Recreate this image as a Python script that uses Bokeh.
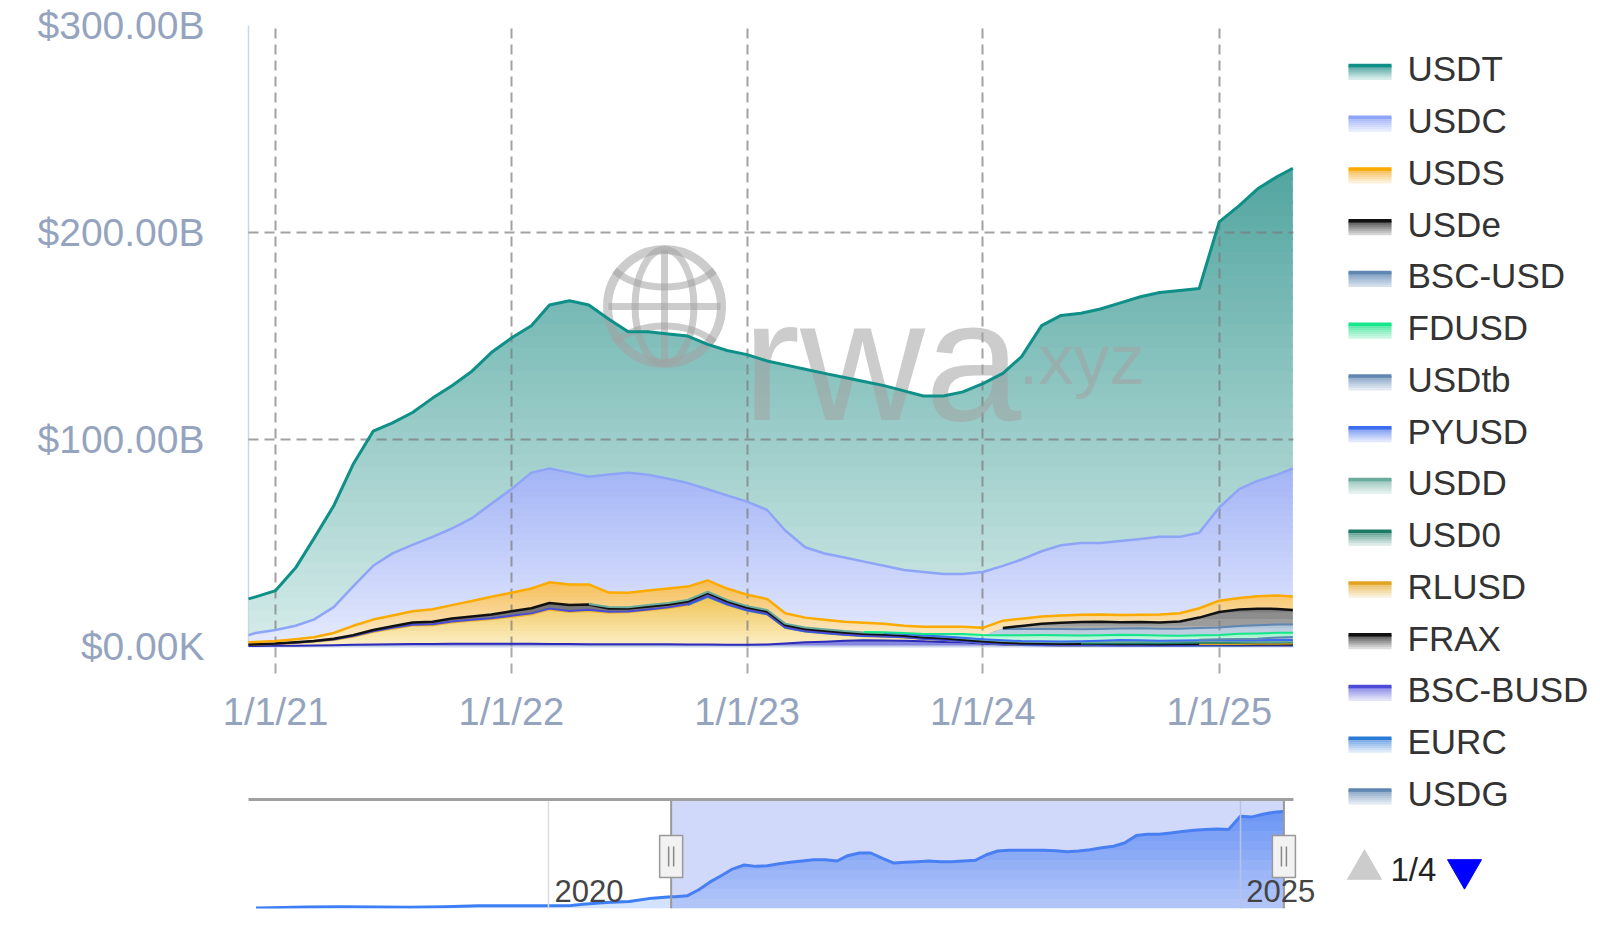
import numpy as np
import pandas as pd
from bokeh.plotting import figure
from bokeh.models import Range1d, FixedTicker, BoxAnnotation, Span, Label
from bokeh.layouts import column, row
from bokeh.embed import file_html
from bokeh.resources import INLINE
from bokeh.core.properties import value

# ---------------------------------------------------------------- data (USD billions)
dates = ["2020-11-20", "2020-12-01", "2021-01-01", "2021-02-01", "2021-03-01", "2021-04-01",
         "2021-05-01", "2021-06-01", "2021-07-01", "2021-08-01", "2021-09-01", "2021-10-01",
         "2021-11-01", "2021-12-01", "2022-01-01", "2022-02-01", "2022-03-01", "2022-04-01",
         "2022-05-01", "2022-06-01", "2022-07-01", "2022-08-01", "2022-09-01", "2022-10-01",
         "2022-11-01", "2022-12-01", "2023-01-01", "2023-02-01", "2023-03-01", "2023-04-01",
         "2023-05-01", "2023-06-01", "2023-07-01", "2023-08-01", "2023-09-01", "2023-10-01",
         "2023-11-01", "2023-12-01", "2024-01-01", "2024-02-01", "2024-03-01", "2024-04-01",
         "2024-05-01", "2024-06-01", "2024-07-01", "2024-08-01", "2024-09-01", "2024-10-01",
         "2024-11-01", "2024-12-01", "2025-01-01", "2025-02-01", "2025-03-01", "2025-04-01",
         "2025-04-25"]

usdt = [17.5, 17.5, 19, 28, 39, 49, 59, 65, 63, 64,
        67, 69, 71, 73, 73, 71, 79, 83, 83, 75,
        68, 69, 70, 71, 70, 70, 71, 72, 80, 86,
        87, 87, 87, 87, 86.5, 85, 86, 88, 91, 93,
        98, 109, 111, 111, 113, 115, 117, 118, 119, 118,
        138, 137, 141, 144, 145]
usdc = [3.5, 4.3, 5.4, 6.5, 8.5, 12.5, 19, 26, 30, 32,
        35, 37, 40, 45, 50, 56, 55, 54, 52, 57,
        58, 56, 53, 50, 44, 45, 45, 43, 40, 34,
        32, 31, 29.5, 28, 27, 26.5, 25.5, 25.5, 27, 26.5,
        28.6, 31.5, 34, 34.7, 34.6, 35.8, 36.6, 37.6, 36.9, 36.5,
        45, 52.6, 55.7, 58.4, 61.9]
usds = [1.0, 1.1, 1.2, 1.5, 1.8, 2.8, 4.5, 5.0, 5.2, 5.5,
        6.0, 6.5, 7.5, 8.5, 9.0, 9.5, 10, 10, 9.5, 7.0,
        7.0, 7.0, 7.0, 6.5, 5.5, 5.5, 5.5, 5.3, 5.0, 4.8,
        4.6, 4.5, 4.5, 4.2, 3.5, 3.5, 3.5, 3.5, 3.5, 3.5,
        3.5, 3.5, 3.5, 3.5, 3.5, 3.5, 3.6, 3.8, 4.0, 4.5,
        5.5, 5.5, 6.0, 6.5, 6.5]
usde = [0, 0, 0, 0, 0, 0, 0, 0, 0, 0,
        0, 0, 0, 0, 0, 0, 0, 0, 0, 0,
        0, 0, 0, 0, 0, 0, 0, 0, 0, 0,
        0, 0, 0, 0, 0, 0, 0, 0, 0, 0.5,
        1.5, 2.5, 3.0, 3.5, 3.5, 3.0, 3.0, 3.0, 3.5, 5.0,
        7.5, 8.0, 8.0, 7.5, 7.0]
bsc_usd = [0, 0, 0, 0, 0, 0, 0, 0, 0, 0,
           0, 0, 0, 0, 0, 0, 0, 0, 0, 0,
           0, 0, 0, 0, 0, 0, 0, 0, 0, 0,
           0, 0, 0, 0, 0, 0, 0, 0, 0, 3.0,
           3.0, 3.0, 3.0, 3.0, 3.0, 3.0, 3.2, 3.3, 3.4, 3.5,
           3.6, 3.8, 4.0, 4.0, 4.0]
fdusd = [0, 0, 0, 0, 0, 0, 0, 0, 0, 0,
         0, 0, 0, 0, 0, 0, 0, 0, 0, 0,
         0, 0, 0, 0, 0, 0, 0, 0, 0, 0,
         0, 0, 0.2, 0.3, 0.4, 0.7, 1.2, 1.8, 2.0, 2.5,
         2.8, 3.0, 3.0, 2.8, 2.7, 2.6, 2.6, 2.5, 2.3, 2.2,
         2.0, 2.5, 2.5, 2.3, 2.0]
usdtb = [0, 0, 0, 0, 0, 0, 0, 0, 0, 0,
         0, 0, 0, 0, 0, 0, 0, 0, 0, 0,
         0, 0, 0, 0, 0, 0, 0, 0, 0, 0,
         0, 0, 0, 0, 0, 0, 0, 0, 0, 0,
         0, 0, 0, 0, 0, 0, 0, 0, 0, 0.2,
         0.4, 0.6, 0.8, 1.2, 1.4]
pyusd = [0, 0, 0, 0, 0, 0, 0, 0, 0, 0,
         0, 0, 0, 0, 0, 0, 0, 0, 0, 0,
         0, 0, 0, 0, 0, 0, 0, 0, 0, 0,
         0, 0, 0, 0.03, 0.05, 0.1, 0.15, 0.2, 0.25, 0.3,
         0.3, 0.35, 0.4, 0.4, 0.5, 0.9, 0.7, 0.5, 0.5, 0.5,
         0.5, 0.6, 0.7, 0.8, 0.8]
usdd = [0, 0, 0, 0, 0, 0, 0, 0, 0, 0,
        0, 0, 0, 0, 0, 0, 0, 0, 0.2, 0.7,
        0.7, 0.7, 0.7, 0.7, 0.7, 0.7, 0.7, 0.7, 0.7, 0.7,
        0.7, 0.7, 0.7, 0.7, 0.7, 0.7, 0.7, 0.7, 0.7, 0.7,
        0.7, 0.7, 0.7, 0.7, 0.7, 0.7, 0.7, 0.7, 0.7, 0.75,
        0.8, 0.6, 0.4, 0.4, 0.4]
usd0 = [0, 0, 0, 0, 0, 0, 0, 0, 0, 0,
        0, 0, 0, 0, 0, 0, 0, 0, 0, 0,
        0, 0, 0, 0, 0, 0, 0, 0, 0, 0,
        0, 0, 0, 0, 0, 0, 0, 0, 0, 0,
        0, 0, 0, 0.1, 0.2, 0.3, 0.4, 0.5, 0.5, 0.6,
        0.6, 0.6, 0.6, 0.6, 0.6]
rlusd = [0, 0, 0, 0, 0, 0, 0, 0, 0, 0,
         0, 0, 0, 0, 0, 0, 0, 0, 0, 0,
         0, 0, 0, 0, 0, 0, 0, 0, 0, 0,
         0, 0, 0, 0, 0, 0, 0, 0, 0, 0,
         0, 0, 0, 0, 0, 0, 0, 0, 0, 0.05,
         0.08, 0.1, 0.15, 0.25, 0.3]
frax = [0.05, 0.05, 0.1, 0.15, 0.2, 0.3, 0.4, 0.6, 0.8, 1.0,
        1.2, 1.4, 1.6, 1.8, 2.2, 2.5, 2.7, 2.8, 2.6, 1.6,
        1.4, 1.4, 1.4, 1.3, 1.3, 1.2, 1.1, 1.1, 1.1, 1.0,
        1.0, 0.95, 0.9, 0.85, 0.8, 0.7, 0.65, 0.65, 0.65, 0.65,
        0.65, 0.6, 0.6, 0.6, 0.6, 0.6, 0.55, 0.5, 0.5, 0.5,
        0.45, 0.4, 0.4, 0.35, 0.35]
bsc_busd = [0.05, 0.05, 0.1, 0.15, 0.2, 0.3, 0.4, 0.4, 0.4, 0.45,
            0.5, 0.5, 0.5, 0.5, 0.5, 0.5, 0.5, 0.5, 0.5, 0.45,
            0.4, 0.4, 0.4, 0.4, 0.4, 0.35, 0.35, 0.3, 0.2, 0.2,
            0.2, 0.15, 0.15, 0.1, 0.1, 0.1, 0.1, 0.1, 0.1, 0.1,
            0.1, 0.1, 0.1, 0.1, 0.1, 0.05, 0.05, 0.05, 0.05, 0.05,
            0.05, 0.05, 0.05, 0.05, 0.05]
eurc = [0, 0, 0, 0, 0, 0, 0, 0, 0, 0,
        0, 0, 0, 0, 0, 0, 0, 0, 0, 0,
        0, 0, 0, 0.05, 0.05, 0.05, 0.05, 0.05, 0.05, 0.05,
        0.05, 0.05, 0.05, 0.05, 0.05, 0.05, 0.05, 0.05, 0.05, 0.07,
        0.07, 0.07, 0.07, 0.07, 0.07, 0.07, 0.08, 0.08, 0.1, 0.1,
        0.12, 0.12, 0.13, 0.14, 0.15]
usdg = [0, 0, 0, 0, 0, 0, 0, 0, 0, 0,
        0, 0, 0, 0, 0, 0, 0, 0, 0, 0,
        0, 0, 0, 0, 0, 0, 0, 0, 0, 0,
        0, 0, 0, 0, 0, 0, 0, 0, 0, 0,
        0, 0, 0, 0, 0, 0, 0, 0, 0.01, 0.02,
        0.03, 0.04, 0.05, 0.05, 0.05]
# series on later legend pages (not listed on page 1/4)
busd = [0.6, 0.7, 0.85, 1.3, 1.8, 2.5, 3.9, 6.0, 7.5, 8.9,
        9.1, 10.3, 11.1, 11.9, 13.0, 14.2, 16.6, 15.5, 16.1, 15.2,
        15.4, 16.4, 17.4, 19.0, 23.0, 19.3, 16.4, 14.5, 7.5, 5.2,
        4.1, 2.8, 2.0, 1.9, 1.6, 1.15, 0.95, 0.5, 0.25, 0.15,
        0.1, 0.08, 0.06, 0.05, 0.05, 0, 0, 0, 0, 0,
        0, 0, 0, 0, 0]
tusd = [0.3, 0.3, 0.35, 0.4, 0.5, 0.6, 0.8, 1.0, 1.1, 1.2,
        1.2, 1.3, 1.3, 1.3, 1.3, 1.3, 1.2, 1.2, 1.1, 1.1,
        1.1, 1.1, 1.1, 1.0, 1.0, 0.9, 0.9, 1.0, 1.5, 2.0,
        2.3, 2.8, 3.0, 2.9, 2.8, 2.5, 2.2, 2.0, 1.5, 1.0,
        0.7, 0.6, 0.5, 0.5, 0.5, 0.5, 0.5, 0.5, 0.5, 0.5,
        0.5, 0.5, 0.5, 0.5, 0.5]

# navigator: USDT history before the selected window
nav_hist_dates = ["2017-11-20", "2018-01-01", "2018-04-01", "2018-07-01", "2018-10-01",
                  "2019-01-01", "2019-04-01", "2019-07-01", "2019-10-01", "2020-01-01",
                  "2020-03-01", "2020-04-01", "2020-06-01", "2020-08-01", "2020-10-01"]
nav_hist_usdt = [0.6, 1.3, 2.3, 2.7, 2.3, 2.0, 2.5, 4.0, 4.1, 4.1, 4.6, 6.4, 9.0, 10.5, 15.5]

legend_names = ["USDT", "USDC", "USDS", "USDe", "BSC-USD", "FDUSD", "USDtb", "PYUSD",
                "USDD", "USD0", "RLUSD", "FRAX", "BSC-BUSD", "EURC", "USDG"]
legend_page = "1/4"
x_tick_dates = ["2021-01-01", "2022-01-01", "2023-01-01", "2024-01-01", "2025-01-01"]
x_tick_labels = ["1/1/21", "1/1/22", "1/1/23", "1/1/24", "1/1/25"]
y_tick_values = [0, 100, 200, 300]
y_tick_labels = ["$0.00K", "$100.00B", "$200.00B", "$300.00B"]
nav_tick_dates = ["2020-01-01", "2025-01-01"]
nav_tick_labels = ["2020", "2025"]

# ---------------------------------------------------------------- styles
FONT = "Liberation Sans"
AX_COL = "#95a4be"
# name: (line colour, fill top, fill bottom, gradient slices)
styles = {
    "USDT": ("#0e8f87", "#52a5a0", "#d6ecea", 40),
    "USDC": ("#8ea5f7", "#a3b4f6", "#e6ebfd", 30),
    "USDS": ("#fbab00", "#f6bd55", "#fdf1da", 20),
    "USDe": ("#111111", "#555555", "#d4d4d4", 8),
    "BSC-USD": ("#5f87b2", "#7e9dc1", "#d3dfec", 6),
    "FDUSD": ("#14e68b", "#4fe9a5", "#c9f7e1", 6),
    "USDtb": ("#5f87b2", "#8aa6c6", "#e2e9f2", 0),
    "PYUSD": ("#3c6df0", "#7d9bf2", "#e1e8fd", 0),
    "USDD": ("#6aab9c", "#99c7bc", "#e5f1ee", 0),
    "USD0": ("#1c7a66", "#5d9e8f", "#dcebe7", 0),
    "RLUSD": ("#e0a322", "#e9bd5f", "#faf0d9", 0),
    "FRAX": ("#111111", "#555555", "#dddddd", 0),
    "BSC-BUSD": ("#4b4bd8", "#8a8ae6", "#e4e4f9", 0),
    "EURC": ("#2a7bd6", "#6fa3e4", "#dfeaf8", 0),
    "USDG": ("#5f87b2", "#8aa6c6", "#e2e9f2", 0),
    "BUSD": ("#e8b52c", "#f0c454", "#fcefc9", 16),
    "TUSD": ("#2c2cb8", "#6a6ad8", "#d9d9f5", 0),
}
widths = {"USDT": 3, "USDC": 2.5, "USDS": 2.5, "USDe": 2.5, "FRAX": 2.5}


def ms(d):
    return float(pd.Timestamp(d).value // 10**6)


def hex2rgb(h):
    h = h.lstrip("#")
    return [int(h[i:i + 2], 16) for i in (0, 2, 4)]


def lerp(c1, c2, t):
    a, b = hex2rgb(c1), hex2rgb(c2)
    return "#" + "".join("%02x" % int(round(a[i] + (b[i] - a[i]) * t)) for i in range(3))


def refine(xs, ys, levels):
    """insert the exact points where the straight segments cross the given levels"""
    levels = np.asarray(levels, float)
    ox = [xs[0]]
    oy = [[y[0]] for y in ys]
    for i in range(len(xs) - 1):
        ts = []
        for y in ys:
            a, b = y[i], y[i + 1]
            if b != a:
                t = (levels - a) / (b - a)
                ts.extend(t[(t > 1e-9) & (t < 1 - 1e-9)].tolist())
        for t in sorted(set(ts)) + [1.0]:
            ox.append(xs[i] + t * (xs[i + 1] - xs[i]))
            for j, y in enumerate(ys):
                oy[j].append(y[i] + t * (y[i + 1] - y[i]))
    return np.array(ox), [np.array(o) for o in oy]


def gradient_fill(fig, xs, lower, upper, c_top, c_bot, n, **kw):
    top = float(np.max(upper))
    step = top / n
    eps = step * 0.3
    edges = [k * step for k in range(n + 1)]
    levels = sorted(set(edges + [e + eps for e in edges]))
    rx, (rl, ru) = refine(xs, [lower, upper], levels)
    for k in range(n):
        lo, hi = edges[k], edges[k + 1] + eps
        y2 = np.clip(rl, lo, hi)
        y1 = np.clip(ru, lo, hi)
        if np.max(y1 - y2) <= 1e-9:
            continue
        fig.varea(x=rx, y1=y1, y2=y2, fill_color=lerp(c_bot, c_top, (k + 0.5) / n), **kw)


xd = np.array([ms(d) for d in dates])
X0 = xd[0]
X1 = ms(dates[-1]) + 86400000.0

# ---------------------------------------------------------------- main chart
p = figure(width=1330, height=780, x_axis_type="datetime",
           x_range=Range1d(X0, X1), y_range=Range1d(0, 300),
           output_backend="svg", toolbar_location=None,
           min_border_left=248, min_border_right=37, min_border_top=25, min_border_bottom=134)
p.outline_line_color = None
p.background_fill_color = "white"
p.border_fill_color = "white"
p.extra_x_ranges = {"px": Range1d(248, 1293)}
p.extra_y_ranges = {"py": Range1d(646, 25)}

yax = p.yaxis[0]
yax.ticker = FixedTicker(ticks=y_tick_values)
yax.major_label_overrides = {v: l for v, l in zip(y_tick_values, y_tick_labels)}
yax.major_tick_out = 0
yax.major_tick_in = 0
yax.minor_tick_out = 0
yax.minor_tick_in = 0
yax.axis_line_color = "#ccd6eb"
yax.axis_line_width = 1.5
yax.major_label_text_font = FONT
yax.major_label_text_font_size = "39px"
yax.major_label_text_color = AX_COL
yax.major_label_standoff = 44

xt = [ms(d) for d in x_tick_dates]
xax = p.xaxis[0]
xax.ticker = FixedTicker(ticks=xt)
xax.major_label_overrides = {t: l for t, l in zip(xt, x_tick_labels)}
xax.major_tick_out = 27
xax.major_tick_in = 0
xax.minor_tick_out = 0
xax.minor_tick_in = 0
xax.major_tick_line_color = "#aaaaaa"
xax.major_tick_line_width = 2
xax.major_tick_line_dash = "10 6"
xax.axis_line_color = "#ccd6eb"
xax.axis_line_width = 2
xax.major_label_text_font = FONT
xax.major_label_text_font_size = "38px"
xax.major_label_text_color = AX_COL
xax.major_label_standoff = 17

p.xgrid.ticker = FixedTicker(ticks=xt)
p.ygrid.ticker = FixedTicker(ticks=y_tick_values[1:])
for g in (p.xgrid[0], p.ygrid[0]):
    g.grid_line_color = "#7a7a7a"
    g.grid_line_alpha = 0.7
    g.grid_line_width = 2
    g.grid_line_dash = "10 6"
    g.level = "guide"

series = {"USDT": usdt, "USDC": usdc, "USDS": usds, "USDe": usde, "BSC-USD": bsc_usd,
          "FDUSD": fdusd, "USDtb": usdtb, "PYUSD": pyusd, "USDD": usdd, "USD0": usd0,
          "RLUSD": rlusd, "FRAX": frax, "BSC-BUSD": bsc_busd, "EURC": eurc, "USDG": usdg,
          "BUSD": busd, "TUSD": tusd}
stack_bottom_up = ["TUSD", "BUSD"] + legend_names[::-1]

base = np.zeros(len(xd))
bands = []
for name in stack_bottom_up:
    v = np.array(series[name], float)
    lower = base.copy()
    upper = base + v
    bands.append((name, v, lower, upper))
    base = upper

for name, v, lower, upper in bands:
    line_c, top_c, bot_c, n = styles[name]
    if n > 0:
        gradient_fill(p, xd, lower, upper, top_c, bot_c, n)
    else:
        p.varea(x=xd, y1=upper, y2=lower, fill_color=lerp(top_c, bot_c, 0.25))

# watermark
WM, WA = "#a2a2a2", 0.55
wk = dict(x_range_name="px", y_range_name="py", level="annotation")
gx, gy, R = 664, 306, 62
p.circle(x=[gx], y=[gy], radius=R - 5, radius_units="screen", fill_color=None,
         line_color=WM, line_alpha=WA, line_width=9, **wk)
p.ellipse(x=[gx], y=[gy], width=R * 0.95, height=2 * R - 10, width_units="screen",
          height_units="screen", fill_color=None, line_color=WM, line_alpha=WA, line_width=7, **wk)
p.segment(x0=[gx, gx - R + 6], y0=[gy - R + 6, gy], x1=[gx, gx + R - 6], y1=[gy + R - 6, gy],
          line_color=WM, line_alpha=WA, line_width=7, **wk)
p.bezier(x0=[gx - R + 12, gx - R + 12], y0=[gy - 36, gy + 36],
         x1=[gx + R - 12, gx + R - 12], y1=[gy - 36, gy + 36],
         cx0=[gx - 25, gx - 25], cy0=[gy - 14, gy + 14],
         cx1=[gx + 25, gx + 25], cy1=[gy - 14, gy + 14],
         line_color=WM, line_alpha=WA, line_width=7, **wk)
p.text(x=[742], y=[359], text=["rwa"], text_font=value(FONT), text_font_size="173px",
       text_color=WM, text_alpha=WA, text_baseline="alphabetic", text_align="left", **wk)
p.text(x=[1018], y=[359], text=[".xyz"], text_font=value(FONT), text_font_size="71px",
       text_color=WM, text_alpha=WA, text_baseline="alphabetic", text_align="left", **wk)

for name, v, lower, upper in bands:
    line_c = styles[name][0]
    y = np.where(v > 0, upper, np.nan)
    p.line(xd, y, line_color=line_c, line_width=widths.get(name, 2), line_join="round",
           level="overlay")

# ---------------------------------------------------------------- navigator
nav_x = np.array([ms(d) for d in nav_hist_dates] + list(xd))
nav_y = np.array(nav_hist_usdt + usdt, float)
nav = figure(width=1330, height=141, x_axis_type="datetime",
             x_range=Range1d(ms("2017-10-31"), ms("2025-08-27")), y_range=Range1d(0, 163),
             x_axis_location=None, y_axis_location=None, output_backend="svg",
             toolbar_location=None, min_border_left=248, min_border_right=0,
             min_border_top=19, min_border_bottom=13)
nav.outline_line_color = None
nav.background_fill_color = "white"
nav.border_fill_color = "white"
nav.extra_x_ranges = {"px": Range1d(248, 1330)}
nav.extra_y_ranges = {"py": Range1d(908, 799)}
nav.ygrid.visible = False
nav.xgrid.ticker = FixedTicker(ticks=[ms(d) for d in nav_tick_dates])
nav.xgrid.grid_line_color = "#dedede"
nav.xgrid.grid_line_width = 1.5
nav.xgrid.level = "guide"

gradient_fill(nav, nav_x, np.zeros(len(nav_x)), nav_y, "#6d9ef7", "#d8e6fe", 10)
nav.line(nav_x, nav_y, line_color="#3c7ef5", line_width=3, line_join="round")
nav.add_layout(BoxAnnotation(left=X0, right=X1, fill_color="#6680f0", fill_alpha=0.3,
                             line_color=None))
nav.segment(x0=[248], y0=[799], x1=[1293], y1=[799], line_color="#a0a0a0", line_width=3,
            x_range_name="px", y_range_name="py", level="overlay")
for xe in (X0, X1):
    nav.add_layout(Span(location=xe, dimension="height", line_color="#999999", line_width=2))
for d, l in zip(nav_tick_dates, nav_tick_labels):
    nav.add_layout(Label(x=ms(d), y=890, y_range_name="py", x_offset=6, text=l,
                         text_font=FONT, text_font_size="31px", text_color="#444444",
                         text_baseline="alphabetic"))
ms_per_px = (nav.x_range.end - nav.x_range.start) / 1082.0
nav.rect(x=[X0, X1], y=[856, 856], width=23, height=42, width_units="screen",
         height_units="screen", fill_color="#f2f2f2", line_color="#999999", line_width=1.5,
         y_range_name="py", level="overlay")
gx0 = []
for xe in (X0, X1):
    gx0 += [xe - 2.5 * ms_per_px, xe + 2.5 * ms_per_px]
nav.segment(x0=gx0, y0=[846] * 4, x1=gx0, y1=[866] * 4, line_color="#888888",
            line_width=1.5, y_range_name="py", level="overlay")

# ---------------------------------------------------------------- legend (page 1 of 4) + pager
side = figure(width=262, height=921, x_range=Range1d(1330, 1592), y_range=Range1d(921, 0),
              x_axis_location=None, y_axis_location=None, output_backend="svg",
              toolbar_location=None, min_border=0)
side.grid.visible = False
side.outline_line_color = None
side.background_fill_color = "white"
side.border_fill_color = "white"
ys = []
for i, name in enumerate(legend_names):
    yc = 68.4 + 51.75 * i
    ys.append(yc)
    line_c, top_c, bot_c, _ = styles[name]
    nsl = 7
    for k in range(nsl):
        ya = yc - 3.4 + k * 14.0 / nsl
        side.quad(left=1348, right=1391, top=ya, bottom=ya + 14.0 / nsl + 0.5,
                  fill_color=lerp(top_c, bot_c, k / (nsl - 1)), line_color=None)
    side.segment(x0=1348, y0=yc - 3.4, x1=1391, y1=yc - 3.4, line_color=line_c, line_width=3.5)
side.text(x=[1407] * len(legend_names), y=ys, text=legend_names, text_baseline="middle",
          text_align="left", text_font=value(FONT), text_font_size="35px", text_color="#333333")
side.scatter(x=[1364], y=[869], marker="triangle", size=34, fill_color="#cccccc",
             line_color="#cccccc")
side.scatter(x=[1464], y=[869], marker="inverted_triangle", size=34, fill_color="#0000ff",
             line_color="#0000ff")
side.text(x=[1390], y=[869], text=[legend_page], text_baseline="middle", text_align="left",
          text_font=value(FONT), text_font_size="33px", text_color="#222222")

layout = row(column(p, row(nav)), side)
open("out.html", "w").write(file_html(layout, INLINE, "Stablecoin market cap"))
